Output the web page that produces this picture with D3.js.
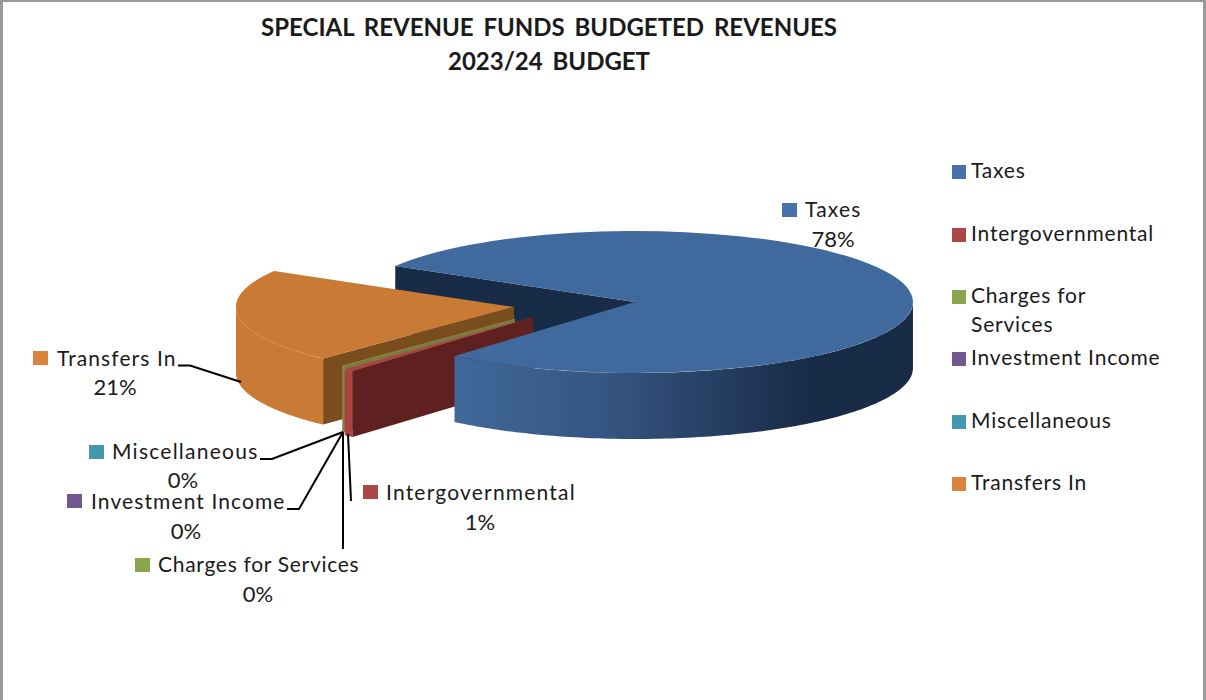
<!DOCTYPE html>
<html><head><meta charset="utf-8">
<script src="https://cdnjs.cloudflare.com/ajax/libs/d3/7.8.5/d3.min.js"></script>
<style>html,body{margin:0;padding:0;background:#fff;overflow:hidden}svg{display:block}text{font-family:Lato,"Open Sans",sans-serif;fill:#1a1a1a}</style>
</head><body><div id="c"></div><script>
const titleLines = ["SPECIAL REVENUE FUNDS BUDGETED REVENUES", "2023/24 BUDGET"];
const categories = ["Taxes", "Intergovernmental", "Charges for Services", "Investment Income", "Miscellaneous", "Transfers In"];
const shares = [0.778, 0.006, 0.001, 0.0005, 0.0005, 0.214];
const swatchColors = ["#4572a7", "#aa4643", "#89a54e", "#71588f", "#4198af", "#db843d"];
const topColors = ["#40699e", "#a94442", "#8c8c50", "#8c8c50", "#8c8c50", "#c97b36"];
const sideColors = ["#182b47", "#5e211f", "#7a7a40", "#7a7a40", "#7a7a40", "#7a4d1c"];
const wallColors = ["#41699b", "#a94442", "#8c8c50", "#8c8c50", "#8c8c50", "#c97b36"];

const W = 1206, H = 700;
const svg = d3.select("#c").append("svg").attr("width", W).attr("height", H);
const defs = svg.append("defs");
const grad = defs.append("linearGradient").attr("id", "taxWall").attr("gradientUnits", "userSpaceOnUse")
  .attr("x1", 454).attr("x2", 810).attr("y1", 0).attr("y2", 0);
grad.append("stop").attr("offset", 0).attr("stop-color", "#41699b");
grad.append("stop").attr("offset", 0.45).attr("stop-color", "#345480");
grad.append("stop").attr("offset", 1).attr("stop-color", "#182b47");
defs.append("clipPath").attr("id", "thin").append("rect").attr("x", 0).attr("y", 0).attr("width", 515).attr("height", H);

svg.append("path").attr("d", `M1.5,${H} V0.5 H${W-1.5} V${H}`).attr("fill", "none").attr("stroke", "#999").attr("stroke-width", 3);

const title = svg.append("text").attr("text-anchor", "middle").attr("font-weight", 700).attr("font-size", 24);
titleLines.forEach((t, i) => title.append("tspan").attr("x", 549).attr("y", 36 + i * 34).attr("word-spacing", 4).text(t));

// pie geometry
const rx = 278, ry = 71, depth = 66, centre = [635, 302];
const explode = [[0,0],[-102,15],[-102,12],[-102,12],[-102,12],[-121,5]];
const deg = Math.PI / 180;
const pie = d3.pie().sort(null).startAngle(300.4 * deg).endAngle((300.4 + 360) * deg);
const arcs = pie(shares);
const px = d3.scaleLinear().domain([-1, 1]).range([-rx, rx]);
const py = d3.scaleLinear().domain([-1, 1]).range([-ry, ry]);
const topArc = d3.arc().innerRadius(0).outerRadius(1);

function pt(a, i, r = 1, dz = 0) {
  const x = centre[0] + explode[i][0] + px(r * Math.sin(a));
  const y = centre[1] + explode[i][1] + py(-r * Math.cos(a)) + dz;
  return [x, y];
}
const line = d3.line();
function drawTop(g, d, i) {
  g.append("path").attr("d", topArc(d))
    .attr("transform", `translate(${centre[0]+explode[i][0]},${centre[1]+explode[i][1]}) scale(${rx},${ry})`)
    .attr("fill", topColors[i]);
}
function drawSide(g, d, i) {
  const a = d.startAngle;
  g.append("path").attr("d", line([pt(a,i,0),pt(a,i),pt(a,i,1,depth),pt(a,i,0,depth)])+"Z").attr("fill", sideColors[i]);
}
function drawWall(g, d, i) {
  const steps = d3.range(0, 241).map(k => d.startAngle + (d.endAngle - d.startAngle) * k / 240)
    .filter(a => Math.cos(a) <= 0.001);
  const pts = steps.map(a => pt(a, i)).concat(steps.slice().reverse().map(a => pt(a, i, 1, depth)));
  g.append("path").attr("d", line(pts) + "Z").attr("fill", i === 0 ? "url(#taxWall)" : wallColors[i]);
}
const pieG = svg.append("g");
drawSide(pieG, arcs[0], 0);
[5,4,3,2,1].forEach(i => {
  const g = (i >= 2 && i <= 4) ? pieG.append("g").attr("clip-path", "url(#thin)") : pieG;
  drawWall(g, arcs[i], i); drawSide(g, arcs[i], i); drawTop(g, arcs[i], i);
});
drawWall(pieG, arcs[0], 0);
drawTop(pieG, arcs[0], 0);

// leaders
const leaders = [
  [[178,365.5],[190,365.5],[241,382]],
  [[260,459],[272,459],[343,432]],
  [[287,509],[299,509],[343,432]],
  [[343,432],[343,549]],
  [[348,434],[351,501]]
];
leaders.forEach(l => svg.append("path").attr("d", line(l)).attr("fill","none").attr("stroke","#000").attr("stroke-width",2));

// data labels
const pct = d3.format(".0%");
const labelPos = [
  {sx:782, sy:203, tx:805, ty:217, cx:833, py:247, ls:1.2},
  {sx:363, sy:485, tx:386, ty:500, cx:480, py:530, ls:1.2},
  {sx:135, sy:558, tx:158, ty:572, cx:258, py:602, ls:0.7},
  {sx:67,  sy:494, tx:91,  ty:509, cx:186, py:539, ls:1.1},
  {sx:89,  sy:445, tx:112, ty:459, cx:183, py:488, ls:1.25},
  {sx:33,  sy:351, tx:57,  ty:366, cx:115, py:395, ls:1.1}
];
const fs = 21;
categories.forEach((c, i) => {
  const p = labelPos[i];
  svg.append("rect").attr("x", p.sx).attr("y", p.sy).attr("width", 15).attr("height", 14).attr("fill", swatchColors[i]);
  svg.append("text").attr("x", p.tx).attr("y", p.ty).attr("font-size", fs).attr("letter-spacing", p.ls).text(c);
  svg.append("text").attr("x", p.cx).attr("y", p.py).attr("font-size", 22).attr("text-anchor","middle").text(pct(shares[i]));
});

// legend
const legendRows = d3.scaleOrdinal().domain(categories).range([178, 241, 303, 365, 428, 490]);
categories.forEach((c, i) => {
  const y = legendRows(c);
  svg.append("rect").attr("x", 952).attr("y", y - 13).attr("width", 14).attr("height", 14).attr("fill", swatchColors[i]);
  const t = svg.append("text").attr("x", 971).attr("y", y).attr("font-size", fs).attr("letter-spacing", 0.8);
  if (c === "Charges for Services") {
    t.append("tspan").attr("x", 971).attr("y", y).text("Charges for");
    t.append("tspan").attr("x", 971).attr("y", y + 29).text("Services");
  } else t.text(c);
});
</script></body></html>
